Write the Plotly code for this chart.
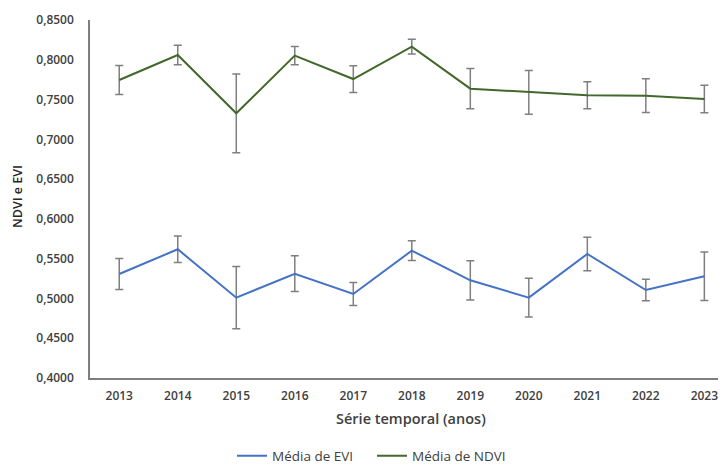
import plotly.graph_objects as go

years = ["2013", "2014", "2015", "2016", "2017", "2018", "2019", "2020", "2021", "2022", "2023"]
ndvi_mean = [0.7746, 0.8060, 0.7327, 0.8052, 0.7758, 0.8165, 0.7637, 0.7591, 0.7553, 0.7549, 0.7507]
ndvi_err = [0.0183, 0.0124, 0.0495, 0.0116, 0.0168, 0.0092, 0.0252, 0.0275, 0.0170, 0.0212, 0.0174]
evi_mean = [0.5307, 0.5618, 0.5010, 0.5311, 0.5056, 0.5601, 0.5228, 0.5010, 0.5559, 0.5106, 0.5279]
evi_err = [0.0195, 0.0167, 0.0390, 0.0225, 0.0144, 0.0124, 0.0247, 0.0243, 0.0210, 0.0134, 0.0304]
y_ticks = [0.40, 0.45, 0.50, 0.55, 0.60, 0.65, 0.70, 0.75, 0.80, 0.85]

err_style = dict(type="data", thickness=1.5, width=4, color="#7f7f7f")

fig = go.Figure()
fig.add_trace(go.Scatter(
    x=years, y=evi_mean, mode="lines", name="Média de EVI",
    line=dict(color="#4472C4", width=2),
    error_y=dict(array=evi_err, **err_style),
    legend="legend",
))
fig.add_trace(go.Scatter(
    x=years, y=ndvi_mean, mode="lines", name="Média de NDVI",
    line=dict(color="#43682b", width=2),
    error_y=dict(array=ndvi_err, **err_style),
    legend="legend2",
))

fam = "Open Sans, sans-serif"
tickfont = dict(family=fam, size=12, color="#404040", weight=600)
legfont = dict(family=fam, size=13.5, color="#404040")

# page body has an 8px default margin: compensate so plot area sits at x 90-726, y 20-378 on screen
fig.update_layout(
    width=726, height=465,
    margin=dict(l=82, r=8, t=12, b=95, autoexpand=False),
    paper_bgcolor="white", plot_bgcolor="white",
    separators=",.",
    font=dict(family=fam, size=12, color="#404040"),
    showlegend=True,
    legend=dict(orientation="h", x=(232 - 90) / 636, xanchor="left", y=-0.218, yanchor="middle",
                font=legfont, itemwidth=30, bgcolor="rgba(0,0,0,0)"),
    legend2=dict(orientation="h", x=(372 - 90) / 636, xanchor="left", y=-0.218, yanchor="middle",
                 font=legfont, itemwidth=30, bgcolor="rgba(0,0,0,0)"),
    xaxis=dict(
        type="category", range=[-0.5, 10.37], automargin=False,
        showline=True, linecolor="#7f7f7f", linewidth=1.5,
        showgrid=False, ticks="", zeroline=False,
        tickfont=tickfont, ticklabelstandoff=6,
    ),
    yaxis=dict(
        range=[0.40, 0.85], tickvals=y_ticks, tickformat=".4f", automargin=False,
        showline=True, linecolor="#7f7f7f", linewidth=1.5,
        showgrid=False, ticks="", zeroline=False,
        ticklabelstandoff=12,
        tickfont=tickfont,
    ),
    annotations=[
        dict(text="Série temporal (anos)", xref="paper", yref="paper",
             x=(411 - 90) / 636, y=-(419 - 378) / 358, xanchor="center", yanchor="middle",
             showarrow=False, font=dict(family=fam, size=14.5, color="#404040", weight=600)),
        dict(text="NDVI e EVI", xref="paper", yref="paper", textangle=-90,
             x=-(90 - 18) / 636, y=(378 - 197) / 358, xanchor="center", yanchor="middle",
             showarrow=False, font=dict(family=fam, size=12.5, color="#262626", weight=600)),
    ],
)

fig.write_html("out.html")
